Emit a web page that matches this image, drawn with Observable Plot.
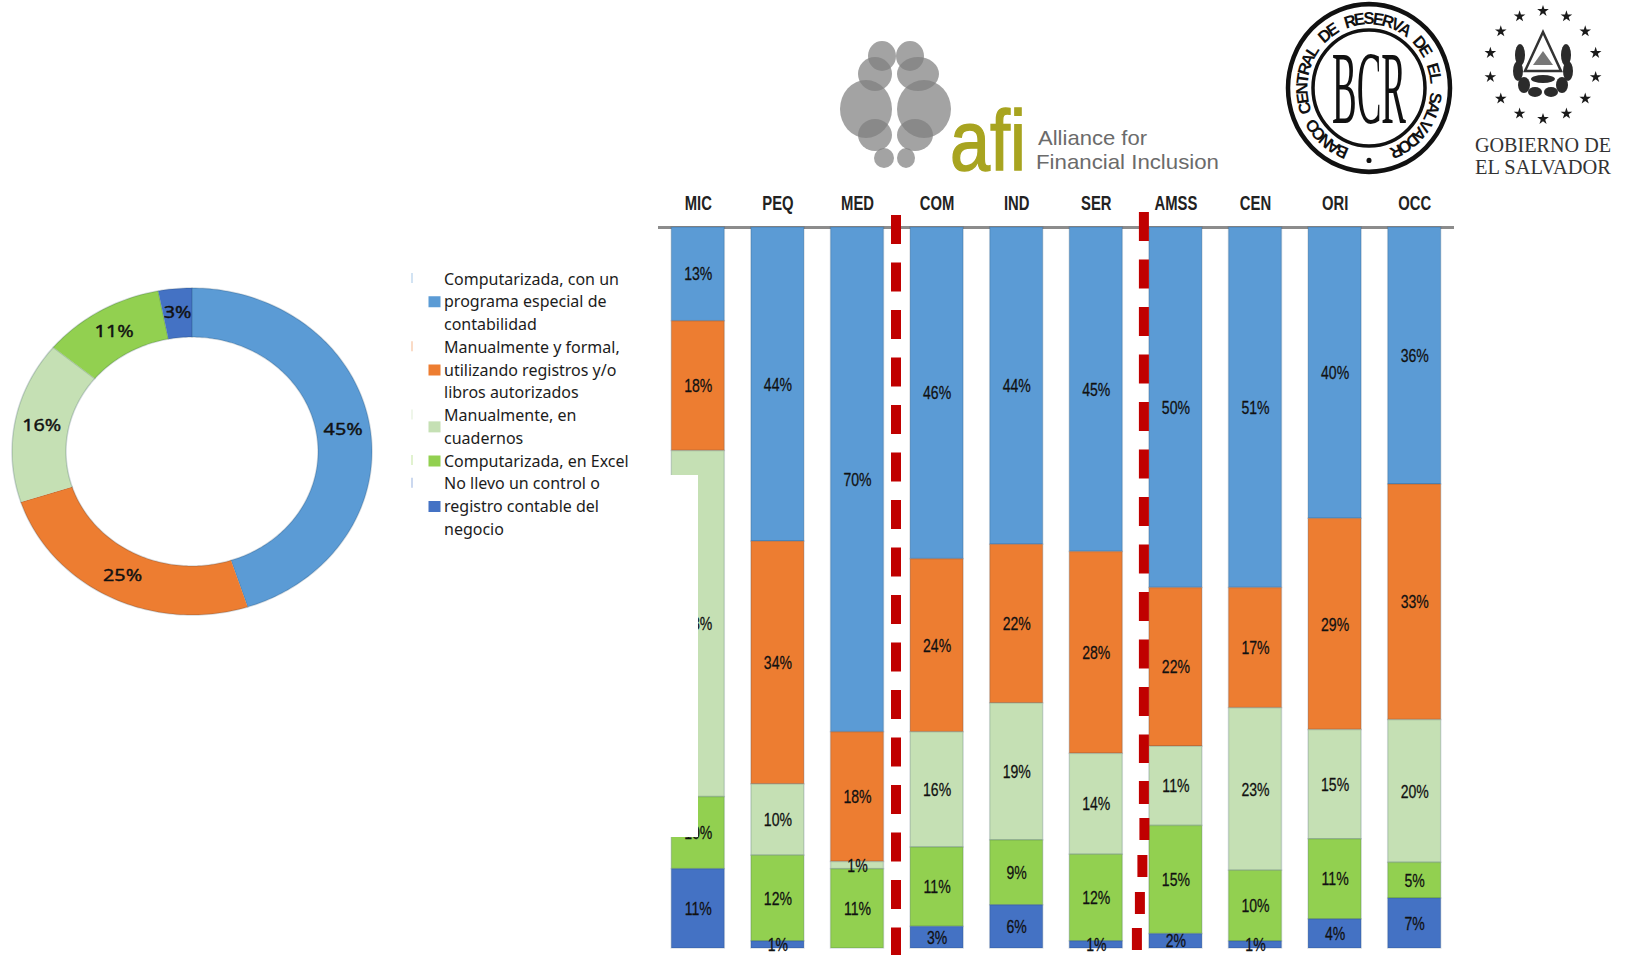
<!DOCTYPE html>
<html lang="es">
<head>
<meta charset="utf-8">
<title>Registro contable de las empresas</title>
<script src="https://cdn.jsdelivr.net/npm/d3@7"></script>
<script src="https://cdn.jsdelivr.net/npm/@observablehq/plot@0.6"></script>
<style>
  html, body { margin: 0; padding: 0; background: #fff; }
  #page { position: relative; width: 1628px; height: 955px; overflow: hidden; background: #fff; }
  #page > * { position: absolute; }
  #bars { left: 0; top: 0; }
  #donut { left: 0; top: 270px; }
  #legend, #logos { left: 0; top: 0; }
  #nic-cover { left: 670px; top: 475px; width: 28px; height: 362px; background: #fff; }
</style>
</head>
<body>
<div id="page">
  <div id="donut"></div>
  <div id="bars"></div>
  <svg id="legend" width="660" height="560"></svg>
  <svg id="logos" width="1628" height="200" viewBox="0 0 1628 200"></svg>
</div>
<script>
// Categories: company size, economic sector and region
const categories = ["MIC", "PEQ", "MED", "COM", "IND", "SER", "AMSS", "CEN", "ORI", "OCC"];

// How the accounting is kept, one list per category above
const programa   = [13, 44, 70, 46, 44, 45, 50, 51, 40, 36];
const formal     = [18, 34, 18, 24, 22, 28, 22, 17, 29, 33];
const cuadernos  = [48, 10,  1, 16, 19, 14, 11, 23, 15, 20];
const excel      = [10, 12, 11, 11,  9, 12, 15, 10, 11,  5];
const sinControl = [11,  1,  0,  3,  6,  1,  2,  1,  4,  7];

// National totals shown in the ring
const totals = [45, 25, 16, 11, 3];

const seriesKeys = ["programa", "formal", "cuadernos", "excel", "sinControl"];
const seriesColors = ["#5B9BD5", "#ED7D31", "#C5E0B4", "#92D050", "#4472C4"];
const seriesValues = [programa, formal, cuadernos, excel, sinControl];

// Legend wording, already broken into its display lines
const legendLines = [
  ["Computarizada, con un", "programa especial de", "contabilidad"],
  ["Manualmente y formal,", "utilizando registros y/o", "libros autorizados"],
  ["Manualmente, en", "cuadernos"],
  ["Computarizada, en Excel"],
  ["No llevo un control o", "registro contable del", "negocio"]
];

const sans = "'Liberation Sans', sans-serif";
const humanist = "'Noto Sans', 'Open Sans', sans-serif";
const ink = "#111";

// Rescale a text's width about its anchor without touching its height
function stretchText(root, factor) {
  root.querySelectorAll("text").forEach((t) => {
    t.setAttribute("textLength", (t.getComputedTextLength() * factor).toFixed(1));
    t.setAttribute("lengthAdjust", "spacingAndGlyphs");
  });
}

/* Stacked columns */
const rows = categories.flatMap((category, i) =>
  seriesKeys.map((key, s) => ({category, key, value: seriesValues[s][i]})).filter((d) => d.value > 0)
);
const stack = (extra) => Plot.stackY({x: "category", y: "value", offset: "normalize", ...extra});
const colorScale = {domain: seriesKeys, range: seriesColors};

// Dashed separators between the groups of columns, in plot fractions from the top of the columns
const frac = (px) => (px - 227) / 721;
const slantedDashes = [
  [781, 804, -32], [818, 840, -31.5], [855, 877, -33.5],
  [892, 914, -36], [928, 950, -39]
];

const bars = Plot.plot({
  width: 1628,
  height: 955,
  marginLeft: 658,
  marginRight: 174,
  marginTop: 227,
  marginBottom: 7,
  style: {background: "transparent", overflow: "visible"},
  x: {domain: categories, round: false, paddingInner: 0.334, paddingOuter: 0.167, axis: "top", label: null, tickSize: 0, tickPadding: 18},
  y: {domain: [0, 1], reverse: true, axis: null},
  color: colorScale,
  marks: [
    Plot.ruleY([0], {stroke: "#8c8c8c", strokeWidth: 3}),
    Plot.barY(rows, stack({fill: "key", stroke: "#0b2a4a", strokeOpacity: 0.16, strokeWidth: 1.5})),
    Plot.text(rows, stack({text: (d) => d.value + "%", fill: ink, fontFamily: sans, fontSize: 19, stroke: "#111", strokeWidth: 0.3})),
    Plot.ruleX(["MED"], {
      dx: 38.5, y1: frac(215), y2: frac(955),
      stroke: "#C00000", strokeWidth: 10, strokeDasharray: "29 18.5"
    }),
    Plot.ruleX(["AMSS"], {
      dx: -32, y1: frac(212), y2: frac(763),
      stroke: "#C00000", strokeWidth: 10, strokeDasharray: "29 18.5"
    }),
    ...slantedDashes.map(([top, bottom, shift]) =>
      Plot.ruleX(["AMSS"], {dx: shift, y1: frac(top), y2: frac(bottom), stroke: "#C00000", strokeWidth: 10})
    )
  ]
});
document.getElementById("bars").append(bars);
d3.select(bars).selectAll("[aria-label='x-axis tick label'] text")
  .attr("font-family", sans).attr("font-size", 20).attr("font-weight", 700).attr("fill", "#222");
stretchText(bars, 0.74);

// A white patch hides the left half of the first column's middle block
const cover = document.createElement("div");
cover.id = "nic-cover";
document.getElementById("page").append(cover);

/* Ring of national totals */
const innerRatio = 0.7;
const cum = d3.cumsum(totals);
const ring = totals.flatMap((value, s) => {
  const a0 = ((cum[s] - value) / 100) * 2 * Math.PI;
  const a1 = (cum[s] / 100) * 2 * Math.PI;
  const ticks = d3.range(a0, a1, 0.02).concat(a1);
  const edge = [
    ...ticks.map((a) => [a, 1]),
    ...ticks.slice().reverse().map((a) => [a, innerRatio])
  ];
  return edge.map(([a, r]) => ({key: seriesKeys[s], x: r * Math.sin(a), y: r * Math.cos(a)}));
});
const ringLabels = totals.map((value, s) => {
  const a = ((cum[s] - value / 2) / 100) * 2 * Math.PI;
  const r = (1 + innerRatio) / 2;
  return {text: value + "%", x: r * Math.sin(a), y: r * Math.cos(a)};
});
const donut = Plot.plot({
  width: 400,
  height: 360,
  margin: 0,
  style: {background: "transparent"},
  x: {domain: [-1, 1], range: [11.5, 371.5], axis: null},
  y: {domain: [-1, 1], range: [344.5, 17.5], axis: null},
  color: colorScale,
  marks: [
    Plot.line(ring, {
      x: "x", y: "y", z: "key", fill: "key", stroke: "#0b2a4a", strokeOpacity: 0.18, strokeWidth: 1.5
    }),
    Plot.text(ringLabels, {
      x: "x", y: "y", text: "text", fill: ink, fontFamily: humanist, fontSize: 16.5, stroke: "#111", strokeWidth: 0.4
    })
  ]
});
document.getElementById("donut").append(donut);
stretchText(donut, 1.2);

/* Legend: one running block of lines with a swatch beside each entry's middle line */
const legend = d3.select("#legend");
const lineStep = 22.75;
const firstLine = 279;
let lineIndex = 0;
legendLines.forEach((lines, s) => {
  const mid = firstLine + (lineIndex + (lines.length - 1) / 2) * lineStep;
  legend.append("rect").attr("x", 428.5).attr("y", mid - 5.5).attr("width", 12).attr("height", 11).attr("fill", seriesColors[s]);
  legend.append("rect").attr("x", 411.5).attr("y", firstLine - 6 + lineIndex * lineStep).attr("width", 1).attr("height", 10)
    .attr("fill", seriesColors[s]).attr("opacity", 0.55);
  lines.forEach((line) => {
    legend.append("text")
      .attr("x", 444).attr("y", firstLine + lineIndex * lineStep)
      .attr("dy", "0.35em")
      .attr("font-family", humanist).attr("font-size", 16).attr("fill", "#1c1c1c")
      .text(line);
    lineIndex += 1;
  });
});

/* Institutional marks above the columns */
const logos = d3.select("#logos");

// Alliance for Financial Inclusion: overlapping lobes plus wordmark
const lobes = [
  [882, 56, 14, 15], [910, 56, 14, 15],
  [875, 74, 17, 17], [918, 74, 21, 17],
  [866, 109, 26, 29], [924, 109, 27, 29],
  [875, 135, 17, 16], [915, 135, 18, 16],
  [884, 158, 10, 10], [906, 158, 9, 10]
];
logos.selectAll("ellipse.lobe").data(lobes).join("ellipse").attr("class", "lobe")
  .attr("cx", (d) => d[0]).attr("cy", (d) => d[1]).attr("rx", (d) => d[2]).attr("ry", (d) => d[3])
  .attr("fill", "#7f7f7f").attr("opacity", 0.72);
const wordmark = [
  {text: "afi", x: 950, y: 170, len: 76, size: 86, fill: "#A8A420", edge: 1.5},
  {text: "Alliance for", x: 1038, y: 145, len: 109, size: 21, fill: "#6b6b6b", edge: 0},
  {text: "Financial Inclusion", x: 1036, y: 169, len: 183, size: 21, fill: "#6b6b6b", edge: 0}
];
logos.selectAll("text.word").data(wordmark).join("text").attr("class", "word")
  .attr("x", (d) => d.x).attr("y", (d) => d.y)
  .attr("textLength", (d) => d.len).attr("lengthAdjust", "spacingAndGlyphs")
  .attr("font-size", (d) => d.size).attr("font-family", sans).attr("fill", (d) => d.fill)
  .attr("stroke", (d) => d.fill).attr("stroke-width", (d) => d.edge)
  .text((d) => d.text);

// Banco Central de Reserva seal; its motto runs clockwise from lower left to lower right
const seal = logos.append("g").attr("transform", "translate(1369,88) scale(1,1.035)");
seal.append("circle").attr("r", 81).attr("fill", "none").attr("stroke", "#111").attr("stroke-width", 4.5);
seal.append("circle").attr("r", 56).attr("fill", "none").attr("stroke", "#111").attr("stroke-width", 3.5);
const motto = "BANCO CENTRAL DE RESERVA DE EL SALVADOR";
const mottoAngle = d3.scaleLinear().domain([0, motto.length - 1]).range([-156, 156]);
seal.selectAll("text.motto").data(Array.from(motto)).join("text").attr("class", "motto")
  .attr("transform", (c, i) => `rotate(${mottoAngle(i)}) translate(0,-61.5)`)
  .attr("text-anchor", "middle")
  .attr("font-family", sans).attr("font-weight", 700).attr("font-size", 16.5).attr("fill", "#111")
  .text((c) => c);
seal.append("circle").attr("cy", 70).attr("r", 2.5).attr("fill", "#111");
seal.append("text").attr("x", -37).attr("y", 34)
  .attr("textLength", 74).attr("lengthAdjust", "spacingAndGlyphs")
  .attr("font-family", "'Liberation Serif', serif").attr("font-size", 100).attr("fill", "#111")
  .text("BCR");

// Gobierno de El Salvador: ring of fourteen stars around the coat of arms
const starPath = d3.symbol(d3.symbolStar, 42)();
const star = logos.append("g").attr("transform", "translate(1543,65)");
star.selectAll("path.star").data(d3.range(14)).join("path").attr("class", "star")
  .attr("d", starPath)
  .attr("transform", (i) => {
    const a = (i / 14) * 2 * Math.PI;
    return `translate(${54 * Math.sin(a)},${-54 * Math.cos(a)})`;
  })
  .attr("fill", "#1a1a1a");
star.append("path").attr("d", "M0,-33 L18,6 L-18,6 Z").attr("fill", "#fff").attr("stroke", "#333").attr("stroke-width", 2.5);
star.append("path").attr("d", "M-10,0 L0,-14 L10,0 Z").attr("fill", "#777");
const arms = [
  [-23, -10, 5, 11], [23, -10, 5, 11], [-25, 6, 5, 10], [25, 6, 5, 10],
  [-19, 20, 6, 8], [19, 20, 6, 8], [-8, 27, 7, 5], [8, 27, 7, 5], [0, 14, 12, 4]
];
star.selectAll("ellipse").data(arms).join("ellipse")
  .attr("cx", (d) => d[0]).attr("cy", (d) => d[1]).attr("rx", (d) => d[2]).attr("ry", (d) => d[3])
  .attr("fill", "#2b2b2b");
const govLines = [{text: "GOBIERNO DE", y: 152}, {text: "EL SALVADOR", y: 174}];
logos.selectAll("text.gov").data(govLines).join("text").attr("class", "gov")
  .attr("x", 1475).attr("y", (d) => d.y)
  .attr("textLength", 136).attr("lengthAdjust", "spacingAndGlyphs")
  .attr("font-family", "'Liberation Serif', serif").attr("font-size", 21).attr("fill", "#333")
  .text((d) => d.text);
</script>
</body>
</html>
